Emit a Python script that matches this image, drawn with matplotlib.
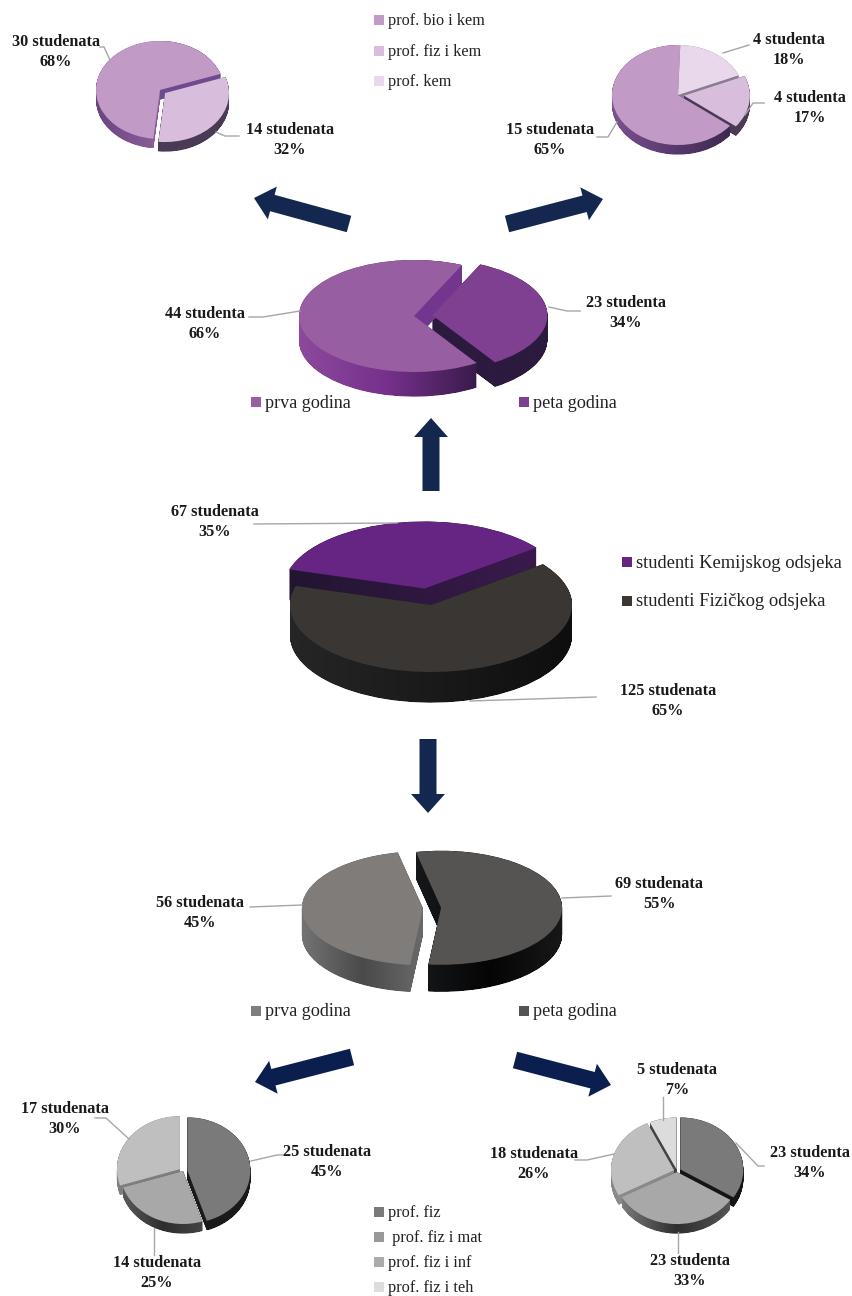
import numpy as np
import matplotlib
matplotlib.use('Agg')
import matplotlib.pyplot as plt
from matplotlib.path import Path
from matplotlib.patches import FancyArrow
from matplotlib.colors import LinearSegmentedColormap

W, H = 852, 1296
plt.rcParams['font.family'] = ['Liberation Serif', 'DejaVu Serif']

# students and percent per slice, in clockwise order
kem_god1_n = [30, 14]
kem_god1_pct = [68, 32]
kem_god5_n = [15, 4, 4]
kem_god5_pct = [65, 18, 17]
kem_n = [44, 23]
kem_pct = [66, 34]
svi_n = [67, 125]
svi_pct = [35, 65]
fiz_n = [69, 56]
fiz_pct = [55, 45]
fiz_god1_n = [25, 14, 17]
fiz_god1_pct = [45, 25, 30]
fiz_god5_n = [23, 23, 18, 5]
fiz_god5_pct = [34, 33, 26, 7]

legend_kem_smjer = ['prof. bio i kem', 'prof. fiz i kem', 'prof. kem']
legend_godina = ['prva godina', 'peta godina']
legend_odsjek = ['studenti Kemijskog odsjeka', 'studenti Fizičkog odsjeka']
legend_fiz_smjer = ['prof. fiz', ' prof. fiz i mat', 'prof. fiz i inf', 'prof. fiz i teh']

fig = plt.figure(figsize=(W / 100, H / 100), dpi=100, facecolor='white')

# overlay in pixel coordinates for arrows, text and leader lines
ov = fig.add_axes([0, 0, 1, 1], zorder=5)
ov.set_xlim(0, W)
ov.set_ylim(H, 0)
ov.axis('off')
ov.patch.set_alpha(0)


def pie3d(values, cx, cy, rx, ry, depth, start, explode, tops, sides, cut=None):
    pad = 1.4
    d = depth / ry
    ax = fig.add_axes([(cx - pad * rx) / W, 1 - (cy + (pad + d) * ry) / H,
                       2 * pad * rx / W, (2 * pad + d) * ry / H], zorder=1)
    wedges, _ = ax.pie(values, startangle=start, counterclock=False, explode=explode,
                       colors=tops, wedgeprops={'linewidth': 0, 'zorder': 50})
    order = sorted(range(len(wedges)), key=lambda i: -np.sin(np.radians((wedges[i].theta1 + wedges[i].theta2) / 2)))
    for k, i in enumerate(order):
        base = wedges[i].get_path()
        stack = [Path(base.vertices - [0, z], base.codes) for z in np.arange(0, d + 1e-6, 0.6 / ry)]
        path = Path.make_compound_path(*stack)
        x0, y0 = path.vertices.min(axis=0)
        x1, y1 = path.vertices.max(axis=0)
        cmap = LinearSegmentedColormap.from_list('side%d' % i, sides[i])
        im = ax.imshow(np.linspace(0, 1, 256)[None, :], cmap=cmap, extent=(x0, x1, y0, y1),
                       aspect='auto', zorder=2 + k)
        im.set_clip_path(path, transform=ax.transData)
        # back cut face of a slice, it catches more light than the rim
        if cut and i in cut:
            cx0, cy0 = wedges[i].center
            cm = LinearSegmentedColormap.from_list('cut%d' % i, [cut[i], cut[i]])
            im = ax.imshow(np.zeros((2, 2)), cmap=cm, extent=(cx0, x1, cy0 - d, y1),
                           aspect='auto', zorder=2 + k)
            im.set_clip_path(path, transform=ax.transData)
    ax.set_xlim(-pad, pad)
    ax.set_ylim(-pad - d, pad)
    ax.set_aspect('auto')
    ax.axis('off')
    ax.patch.set_alpha(0)


pie3d(kem_god1_pct, 160, 90, 64, 49, 10, -96, [0, 0.1], ['#c29ac6', '#d9bddd'],
      [('#6a4480', '#8a5f9a', '#3d2a50'), ('#4a3a55', '#4a3a55')], cut={0: '#704a90'})
pie3d(kem_god5_pct, 678, 95, 66, 50, 10, -38, [0, 0, 0.09], ['#c29ac6', '#e9d8ec', '#d9bddd'],
      [('#7a5290', '#5a3a70', '#3d2a50'), ('#8a7d90', '#8a7d90'), ('#4a3a55', '#4a3a55')])
pie3d(kem_pct, 414, 316, 115, 56, 25, -57, [0, 0.16], ['#975ea1', '#7f4091'],
      [('#8d4a9b', '#75318c', '#3a1b4a'), ('#2c1a3f', '#2c1a3f')], cut={0: '#73368f'})
pie3d(svi_pct, 431, 605, 141, 67, 31, 163.5, [0.25, 0], ['#662483', '#3a3634'],
      [('#221530', '#3a1a4d'), ('#262626', '#1a1a1a', '#0e0e0e')])
pie3d(fiz_pct, 432, 908, 121, 57, 27, 102, [0.075, 0.075], ['#565452', '#7f7c7a'],
      [('#16181a', '#050505', '#181818'), ('#747474', '#4a4a4a', '#6a6a6a')])
pie3d(fiz_god1_pct, 183, 1171, 63, 53, 10, 90, [0.07, 0, 0.06], ['#7a7a7a', '#a8a8a8', '#bfbfbf'],
      [('#1a1a1a', '#1a1a1a'), ('#5a5a5a', '#2e2e2e', '#444444'), ('#7e7e7e', '#7e7e7e')])
pie3d(fiz_god5_pct, 677, 1171, 63, 52, 10, 90, [0.06, 0.02, 0.05, 0.03], ['#7a7a7a', '#a8a8a8', '#bfbfbf', '#dcdcdc'],
      [('#151515', '#151515'), ('#7a7a7a', '#2e2e2e', '#555555'), ('#8a8a8a', '#8a8a8a'), ('#444444', '#444444')])


# arrows: tail x, tail y, tip x, tip y, colour
arrows = [
    (349, 224, 254, 198, '#14274e'),
    (507, 224, 603, 199, '#14274e'),
    (431, 491, 431, 418, '#14274e'),
    (428, 739, 428, 813, '#14274e'),
    (352, 1057, 255, 1082, '#0b1f4f'),
    (515, 1060, 611, 1085, '#0b1f4f'),
]
for x0, y0, x1, y1, c in arrows:
    ov.add_patch(FancyArrow(x0, y0, x1 - x0, y1 - y0, width=17, head_width=34, head_length=19,
                            length_includes_head=True, color=c, linewidth=0))


def word(n):
    return 'studenta' if n % 10 in (2, 3, 4) and n % 100 not in (12, 13, 14) else 'studenata'


def label(n, pct, x, y):
    ov.text(x, y + 2, '%d %s\n%d%%' % (n, word(n), pct), ha='center', va='center', fontsize=11.7,
            fontweight='bold', linespacing=1.31, color='#1a1a1a')


label(kem_god1_n[0], kem_god1_pct[0], 56, 50)
label(kem_god1_n[1], kem_god1_pct[1], 290, 138)
label(kem_god5_n[1], kem_god5_pct[1], 789, 48)
label(kem_god5_n[2], kem_god5_pct[2], 810, 106)
label(kem_god5_n[0], kem_god5_pct[0], 550, 138)
label(kem_n[0], kem_pct[0], 205, 322)
label(kem_n[1], kem_pct[1], 626, 311)
label(svi_n[0], svi_pct[0], 215, 520)
label(svi_n[1], svi_pct[1], 668, 699)
label(fiz_n[1], fiz_pct[1], 200, 911)
label(fiz_n[0], fiz_pct[0], 659, 892)
label(fiz_god1_n[2], fiz_god1_pct[2], 65, 1117)
label(fiz_god1_n[0], fiz_god1_pct[0], 327, 1160)
label(fiz_god1_n[1], fiz_god1_pct[1], 157, 1271)
label(fiz_god5_n[3], fiz_god5_pct[3], 677, 1078)
label(fiz_god5_n[2], fiz_god5_pct[2], 534, 1162)
label(fiz_god5_n[0], fiz_god5_pct[0], 810, 1161)
label(fiz_god5_n[1], fiz_god5_pct[1], 690, 1269)

leaders = [
    ([100, 104, 110], [47, 47, 60]),
    ([216, 225, 239], [132, 136, 136]),
    ([723, 749], [53, 45]),
    ([745, 753, 764], [115, 103, 103]),
    ([597, 608, 617], [137, 137, 122]),
    ([249, 263, 300], [317, 317, 311]),
    ([549, 567, 580], [307, 311, 311]),
    ([254, 397], [524, 523]),
    ([470, 596], [701, 697]),
    ([250, 302], [907, 905]),
    ([562, 611], [898, 896]),
    ([95, 106, 129], [1118, 1118, 1139]),
    ([251, 277, 283], [1161, 1155, 1155]),
    ([154, 154], [1228, 1255]),
    ([663, 663], [1097, 1120]),
    ([575, 587, 614], [1160, 1160, 1154]),
    ([736, 758, 764], [1143, 1166, 1166]),
    ([678, 678], [1232, 1253]),
]
for xs, ys in leaders:
    ov.plot(xs, ys, color='#a6a6a6', lw=1.0, zorder=1)


def legend_item(text, color, x, y, size):
    ov.scatter([x], [y], marker='s', s=44, color=color, linewidths=0)
    ov.text(x + 9, y + 1, text, ha='left', va='center', fontsize=size, color='#222222')


for t, c, y in zip(legend_kem_smjer, ['#c29ac6', '#d9bddd', '#e9d8ec'], [20, 51, 81]):
    legend_item(t, c, 378.5, y, 11.7)
for t, c, x in zip(legend_godina, ['#975ea1', '#7f4091'], [256, 524]):
    legend_item(t, c, x, 402, 13.1)
for t, c, y in zip(legend_odsjek, ['#662483', '#3a3634'], [562, 601]):
    legend_item(t, c, 627, y, 13.3)
for t, c, x in zip(legend_godina, ['#7f7c7a', '#565452'], [256, 524]):
    legend_item(t, c, x, 1011, 13.1)
for t, c, y in zip(legend_fiz_smjer, ['#7a7a7a', '#999999', '#ababab', '#dcdcdc'], [1212, 1237, 1262, 1287]):
    legend_item(t, c, 378.5, y, 11.8)

fig.savefig('out.png', dpi=100)
